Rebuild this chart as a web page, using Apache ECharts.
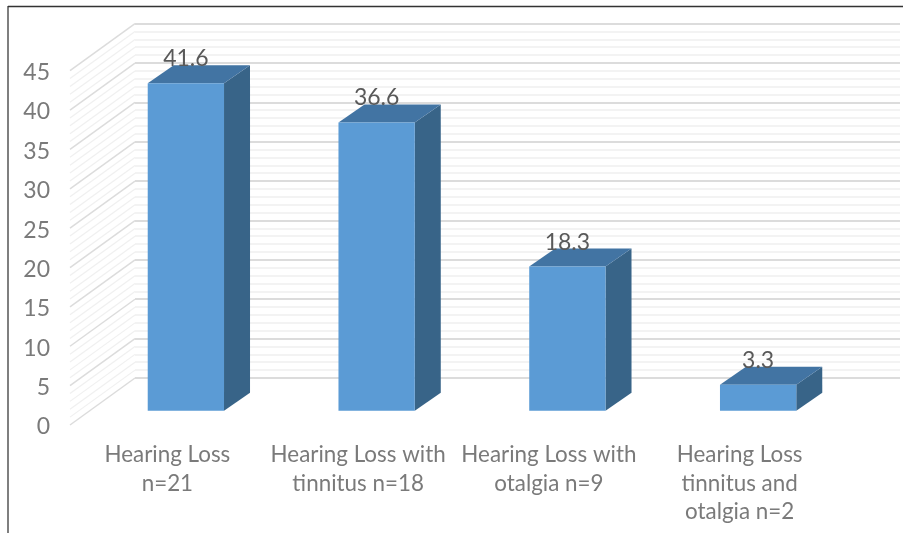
<!DOCTYPE html>
<html>
<head>
<meta charset="utf-8">
<style>html,body{margin:0;padding:0;background:#fff}#chart{width:903px;height:533px}</style>
<script src="https://cdn.jsdelivr.net/npm/echarts@6/dist/echarts.min.js"></script>
</head>
<body>
<div id="chart"></div>
<script>
const categories = ['Hearing Loss\nn=21', 'Hearing Loss with\ntinnitus n=18', 'Hearing Loss with\notalgia n=9', 'Hearing Loss\ntinnitus and\notalgia n=2'];
const percentages = [41.6, 36.6, 18.3, 3.3];
const wallLevels = [0,1,2,3,4,5,6,7,8,9,10,11,12,13,14,15,16,17,18,19,20,21,22,23,24,25,26,27,28,29,30,31,32,33,34,35,36,37,38,39,40,41,42,43,44,45];

const frontColor = '#5B9BD5', topColor = '#4274A3', sideColor = '#386488';
const majorLine = '#dcdcdc', minorLine = '#f0f0f0';
const textGrey = '#7a7a7a', labelGrey = '#595959';
const fontFamily = 'Lato, "Open Sans", sans-serif';

// Oblique projection used for the 3D look
const wallDepth = [65, -47];      // floor edge to back wall
const barPlane = [18.5, -14.3];   // front plane to the front face of the bars
const barDepth = [26, -18];       // depth of each bar
const barRatio = 0.4;

function renderBar(params, api) {
  const value = api.value(1);
  const base = api.coord([api.value(0), 0]);
  const tip = api.coord([api.value(0), value]);
  const w = api.size([1, 0])[0] * barRatio;
  const x0 = base[0] + barPlane[0] - w / 2, x1 = x0 + w;
  const yb = base[1] + barPlane[1], yt = tip[1] + barPlane[1];
  const dx = barDepth[0], dy = barDepth[1];
  return {
    type: 'group',
    children: [
      { type: 'polygon', shape: { points: [[x1, yb], [x1 + dx, yb + dy], [x1 + dx, yt + dy], [x1, yt]] }, style: { fill: sideColor } },
      { type: 'polygon', shape: { points: [[x0, yt], [x1, yt], [x1 + dx, yt + dy], [x0 + dx, yt + dy]] }, style: { fill: topColor } },
      { type: 'rect', shape: { x: x0, y: yt, width: w, height: yb - yt }, style: { fill: frontColor } },
      { type: 'text', x: (x0 + x1) / 2, y: yt - 24.5, style: { text: String(value), fill: labelGrey, font: '23px ' + fontFamily, textAlign: 'center', textVerticalAlign: 'middle' } }
    ]
  };
}

function renderWallLine(params, api) {
  const level = api.value(0);
  const p = api.coord([0, level]);
  const x = params.coordSys.x - 2;
  return {
    type: 'line',
    shape: { x1: x, y1: p[1], x2: x + wallDepth[0], y2: p[1] + wallDepth[1] },
    style: { stroke: level % 5 === 0 ? majorLine : minorLine, lineWidth: level % 5 === 0 ? 1.5 : 1.2 }
  };
}

const chart = echarts.init(document.getElementById('chart'), null, { renderer: 'canvas' });
chart.setOption({
  animation: false,
  backgroundColor: '#ffffff',
  grid: [
    { left: 72, top: 70.7, width: 763, height: 354.3 },   // front plane: bars and categories
    { left: 135, top: 23.5, width: 765, height: 354.5 },  // back wall gridlines
    { left: 72, top: 72.7, width: 763, height: 354.3 }    // value axis labels
  ],
  xAxis: [
    {
      type: 'category', gridIndex: 0, data: categories,
      axisLine: { show: false }, axisTick: { show: false },
      axisLabel: { interval: 0, margin: 16, color: textGrey, fontFamily, fontSize: 22.4, lineHeight: 28.5, verticalAlign: 'top' }
    },
    { type: 'category', gridIndex: 1, data: categories, show: false },
    { type: 'category', gridIndex: 2, data: categories, show: false }
  ],
  yAxis: [
    {
      type: 'value', gridIndex: 0, min: 0, max: 45, interval: 5,
      axisLine: { show: false }, axisTick: { show: false }, splitLine: { show: false }, axisLabel: { show: false }
    },
    {
      type: 'value', gridIndex: 1, min: 0, max: 45, interval: 5,
      axisLine: { show: false }, axisTick: { show: false }, axisLabel: { show: false },
      splitLine: { show: true, lineStyle: { color: majorLine, width: 2 } },
      minorTick: { show: false, splitNumber: 5 },
      minorSplitLine: { show: true, lineStyle: { color: minorLine, width: 1.5 } }
    },
    {
      type: 'value', gridIndex: 2, min: 0, max: 45, interval: 5,
      axisLine: { show: false }, axisTick: { show: false }, splitLine: { show: false },
      axisLabel: { margin: 22, color: textGrey, fontFamily, fontSize: 23 }
    }
  ],
  series: [
    {
      type: 'custom', xAxisIndex: 0, yAxisIndex: 0, silent: true, z: 1,
      renderItem: renderWallLine, data: wallLevels.map(v => [v]),
      encode: { y: 0 }, clip: false
    },
    {
      type: 'custom', xAxisIndex: 0, yAxisIndex: 0, z: 5,
      renderItem: renderBar, data: percentages.map((v, i) => [i, v]),
      encode: { x: 0, y: 1 }, clip: false
    }
  ],
  graphic: [
    { type: 'line', z: 10, shape: { x1: 8, y1: 6, x2: 8, y2: 533 }, style: { stroke: '#7f7f7f', lineWidth: 2 } },
    { type: 'line', z: 10, shape: { x1: 8, y1: 6.5, x2: 903, y2: 6.5 }, style: { stroke: '#333333', lineWidth: 1.5 } }
  ]
});
</script>
</body>
</html>
